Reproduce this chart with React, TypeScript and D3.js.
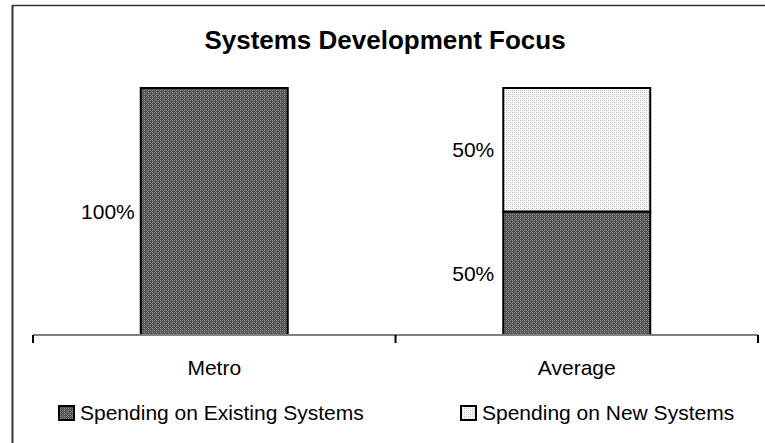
import React from "react";
import * as d3 from "d3";

// Category names, stacked series shares and their labels
const categories = ["Metro", "Average"];
const existingShare = [1.0, 0.5];
const newShare = [0.0, 0.5];
const seriesNames = ["Spending on Existing Systems", "Spending on New Systems"];
const titleText = "Systems Development Focus";

const W = 765;
const H = 443;
const FONT = "'Liberation Sans', Arial, Helvetica, sans-serif";

export default function App() {
  const plotLeft = 33;
  const plotRight = 758;
  const plotTop = 88;
  const plotBottom = 335;

  const x = d3
    .scaleBand<string>()
    .domain(categories)
    .range([plotLeft, plotRight])
    .paddingInner(0.5945)
    .paddingOuter(0.5945 / 2);
  const y = d3.scaleLinear().domain([0, 1]).range([plotBottom, plotTop]);

  const rows = categories.map((c, i) => ({
    category: c,
    existing: existingShare[i],
    fresh: newShare[i],
  }));
  const stack = d3.stack<any>().keys(["existing", "fresh"]);
  const layers = stack(rows);
  const fills = ["url(#darkPat)", "url(#lightPat)"];

  const step = x.step();
  const boundaries = d3.range(categories.length + 1).map((i) => plotLeft + i * step);

  const fmt = d3.format(".0%");

  return (
    <svg
      width={W}
      height={H}
      style={{ position: "absolute", left: 0, top: 0, background: "#fff" }}
      fontFamily={FONT}
    >
      <defs>
        <pattern id="darkPat" width="4" height="4" patternUnits="userSpaceOnUse">
          <rect width="4" height="4" fill="#505050" />
          <rect x="0" y="0" width="1" height="1" fill="#909090" />
          <rect x="2" y="0" width="1" height="1" fill="#808080" />
          <rect x="0" y="2" width="1" height="1" fill="#909090" />
          <rect x="2" y="2" width="1" height="1" fill="#808080" />
          <rect x="1" y="1" width="1" height="1" fill="#6a6a6a" />
          <rect x="3" y="3" width="1" height="1" fill="#6a6a6a" />
        </pattern>
        <pattern id="lightPat" width="4" height="4" patternUnits="userSpaceOnUse">
          <rect width="4" height="4" fill="#f4f4f4" />
          <rect x="0" y="0" width="1" height="1" fill="#c8c8c8" />
          <rect x="2" y="2" width="1" height="1" fill="#c8c8c8" />
          <rect x="2" y="0" width="1" height="1" fill="#dcdcdc" />
          <rect x="0" y="2" width="1" height="1" fill="#dcdcdc" />
        </pattern>
      </defs>

      {/* chart frame: only its top and left edges fall inside the view */}
      <line x1={12} y1={5.5} x2={W} y2={5.5} stroke="#333" strokeWidth={1.5} />
      <line x1={12.5} y1={5} x2={12.5} y2={H} stroke="#333" strokeWidth={2} />

      <text x={385} y={49} textAnchor="middle" fontSize={26} fontWeight="bold" fill="#000">
        {titleText}
      </text>

      {/* stacked bars */}
      {layers.map((layer, li) =>
        layer.map((d, i) => {
          const h = y(d[0]) - y(d[1]);
          if (h <= 0) return null;
          const bx = x(categories[i]) as number;
          return (
            <rect
              key={`${li}-${i}`}
              x={bx}
              y={y(d[1])}
              width={x.bandwidth()}
              height={h}
              fill={fills[li]}
              stroke="#000"
              strokeWidth={2}
            />
          );
        })
      )}

      {/* value labels to the left of each segment */}
      {layers.map((layer, li) =>
        layer.map((d, i) => {
          const v = d[1] - d[0];
          if (v <= 0) return null;
          const bx = x(categories[i]) as number;
          return (
            <text
              key={`l${li}-${i}`}
              x={bx - (i === 0 ? 6 : 9)}
              y={(y(d[0]) + y(d[1])) / 2}
              dy="0.36em"
              textAnchor="end"
              fontSize={21}
              fill="#000"
            >
              {fmt(v)}
            </text>
          );
        })
      )}

      {/* category axis */}
      <line x1={plotLeft} y1={plotBottom} x2={plotRight} y2={plotBottom} stroke="#808080" strokeWidth={2} />
      {boundaries.map((bx, i) => (
        <line key={i} x1={bx} y1={plotBottom} x2={bx} y2={plotBottom + 8} stroke="#000" strokeWidth={2} />
      ))}
      {categories.map((c) => (
        <text
          key={c}
          x={(x(c) as number) + x.bandwidth() / 2}
          y={375}
          textAnchor="middle"
          fontSize={21}
          fill="#000"
        >
          {c}
        </text>
      ))}

      {/* legend */}
      {seriesNames.map((name, i) => {
        const lx = i === 0 ? 59 : 461;
        return (
          <g key={name}>
            <rect x={lx} y={406} width={15} height={14} fill={fills[i]} stroke="#000" strokeWidth={2} />
            <text x={lx + 21} y={420} fontSize={21} fill="#000">
              {name}
            </text>
          </g>
        );
      })}
    </svg>
  );
}
